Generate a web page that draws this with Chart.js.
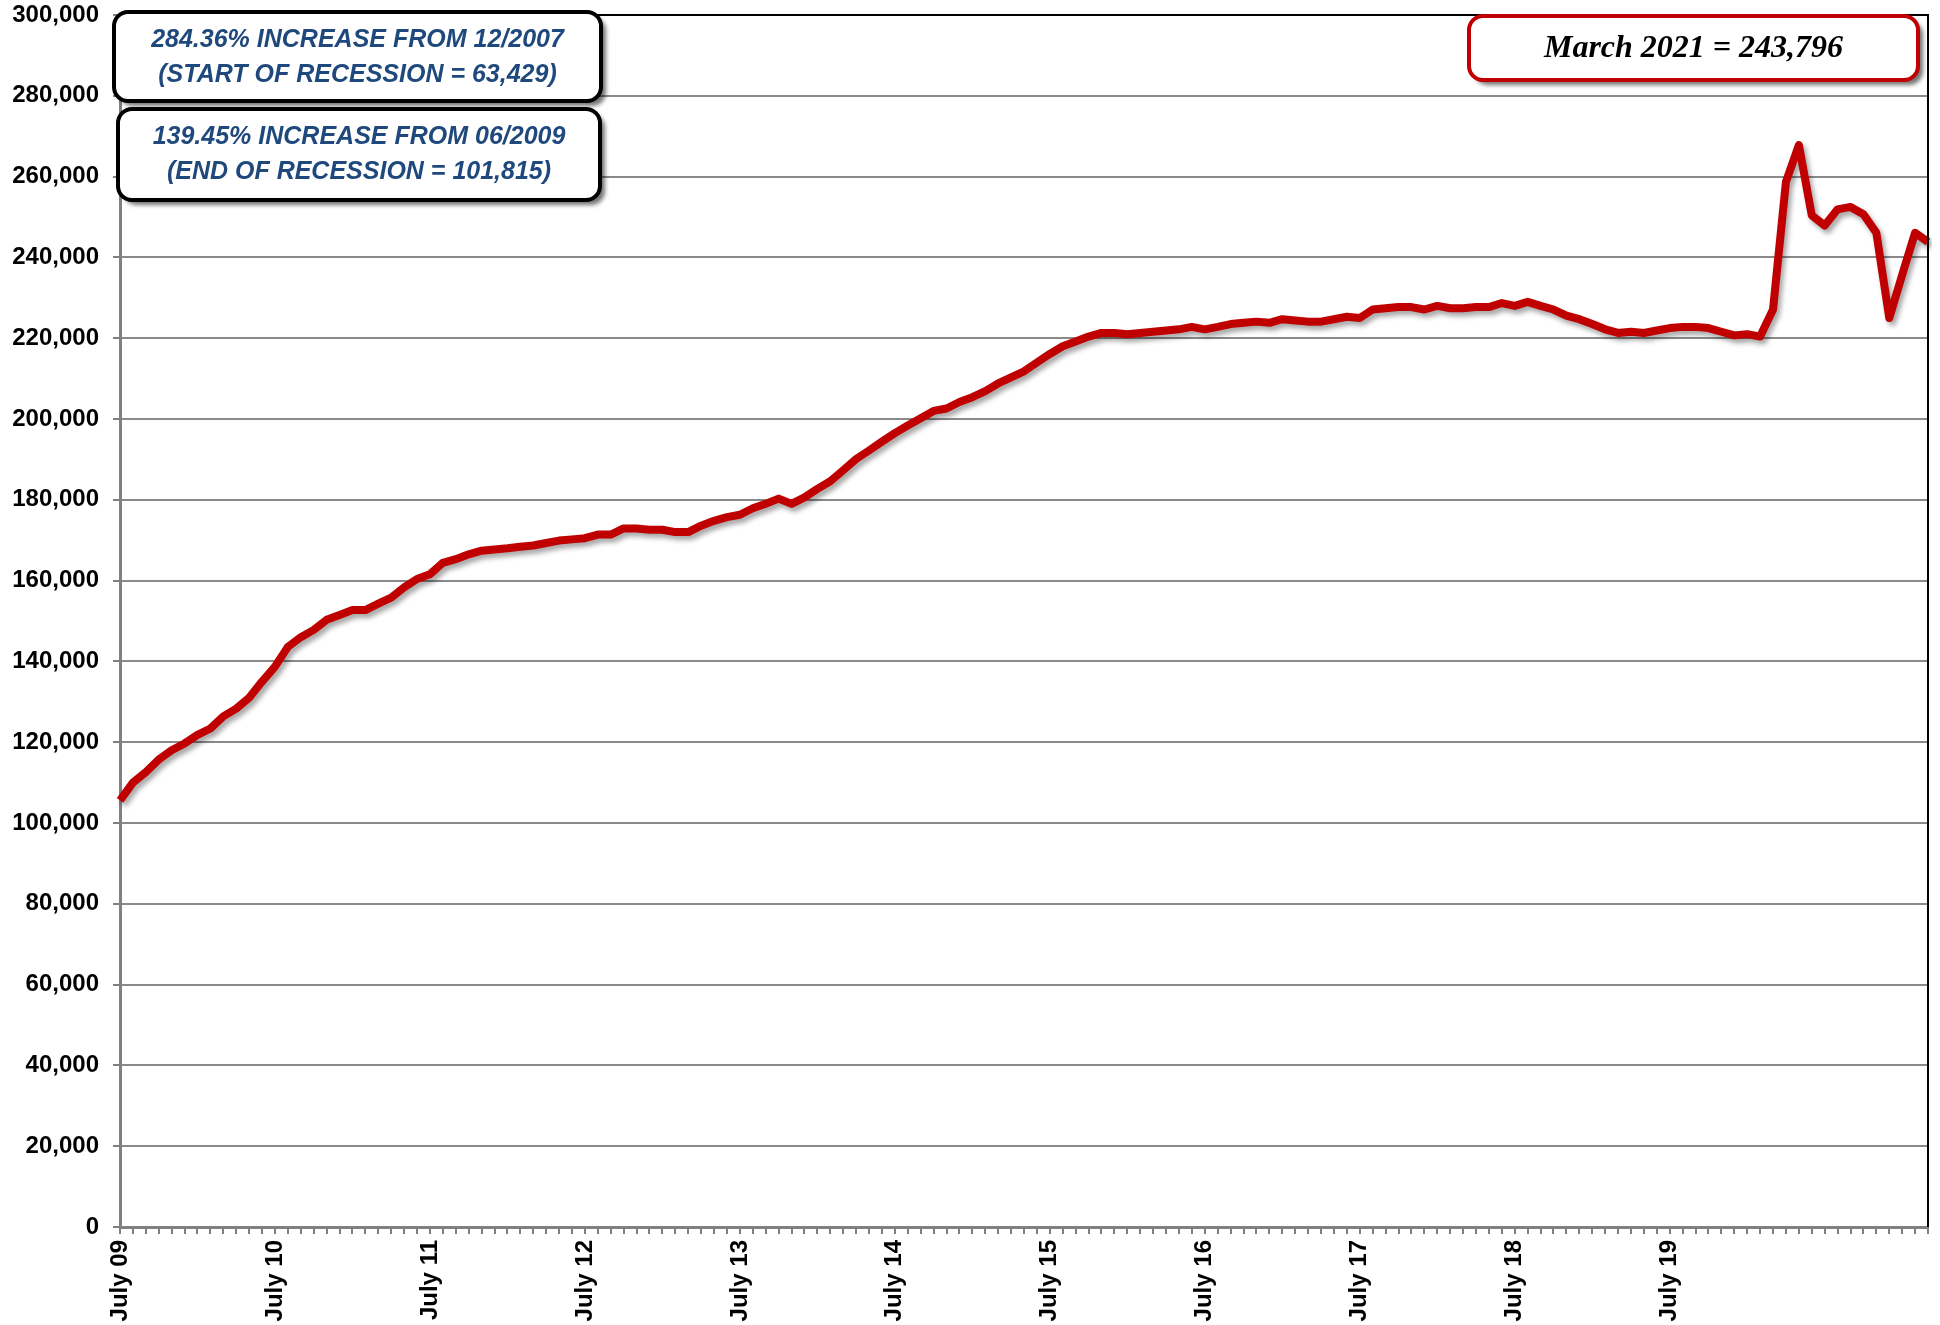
<!DOCTYPE html>
<html>
<head>
<meta charset="utf-8">
<script src="https://cdn.jsdelivr.net/npm/chart.js@4.4.1/dist/chart.umd.min.js"></script>
<style>
  body { margin: 0; background: #fff; }
  canvas { display: block; }
</style>
</head>
<body>
<canvas id="chart" width="1940" height="1325"></canvas>
<script>
// months on the x axis (July 2009 - March 2021)
const months = [
  'Jul 09','Aug 09','Sep 09','Oct 09','Nov 09','Dec 09',
  'Jan 10','Feb 10','Mar 10','Apr 10','May 10','Jun 10','Jul 10','Aug 10','Sep 10','Oct 10','Nov 10','Dec 10',
  'Jan 11','Feb 11','Mar 11','Apr 11','May 11','Jun 11','Jul 11','Aug 11','Sep 11','Oct 11','Nov 11','Dec 11',
  'Jan 12','Feb 12','Mar 12','Apr 12','May 12','Jun 12','Jul 12','Aug 12','Sep 12','Oct 12','Nov 12','Dec 12',
  'Jan 13','Feb 13','Mar 13','Apr 13','May 13','Jun 13','Jul 13','Aug 13','Sep 13','Oct 13','Nov 13','Dec 13',
  'Jan 14','Feb 14','Mar 14','Apr 14','May 14','Jun 14','Jul 14','Aug 14','Sep 14','Oct 14','Nov 14','Dec 14',
  'Jan 15','Feb 15','Mar 15','Apr 15','May 15','Jun 15','Jul 15','Aug 15','Sep 15','Oct 15','Nov 15','Dec 15',
  'Jan 16','Feb 16','Mar 16','Apr 16','May 16','Jun 16','Jul 16','Aug 16','Sep 16','Oct 16','Nov 16','Dec 16',
  'Jan 17','Feb 17','Mar 17','Apr 17','May 17','Jun 17','Jul 17','Aug 17','Sep 17','Oct 17','Nov 17','Dec 17',
  'Jan 18','Feb 18','Mar 18','Apr 18','May 18','Jun 18','Jul 18','Aug 18','Sep 18','Oct 18','Nov 18','Dec 18',
  'Jan 19','Feb 19','Mar 19','Apr 19','May 19','Jun 19','Jul 19','Aug 19','Sep 19','Oct 19','Nov 19','Dec 19',
  'Jan 20','Feb 20','Mar 20','Apr 20','May 20','Jun 20','Jul 20','Aug 20','Sep 20','Oct 20','Nov 20','Dec 20',
  'Jan 21','Feb 21','Mar 21'
];

// labels shown under the July ticks
const tickLabels = ['July 09','July 10','July 11','July 12','July 13','July 14',
                    'July 15','July 16','July 17','July 18','July 19'];

// monthly totals
const monthlyTotal = [
  105600, 110000, 112600, 115700, 118000, 119700,
  121800, 123400, 126400, 128300, 131000, 135000, 138700, 143600, 146000, 147800, 150300, 151500,
  152700, 152700, 154300, 155800, 158300, 160400, 161600, 164400, 165300, 166500, 167400, 167700,
  168000, 168400, 168700, 169300, 169900, 170200, 170500, 171400, 171400, 172900, 172900, 172600,
  172600, 172000, 172000, 173600, 174800, 175700, 176300, 177900, 179000, 180300, 179000, 180600,
  182700, 184600, 187300, 190100, 192200, 194400, 196500, 198400, 200200, 202000, 202600, 204200,
  205400, 206900, 208800, 210300, 211800, 214000, 216100, 218000, 219200, 220400, 221300, 221300,
  221000, 221300, 221600, 221900, 222200, 222800, 222200, 222800, 223500, 223800, 224100, 223800,
  224700, 224400, 224100, 224100, 224700, 225300, 225000, 227100, 227400, 227700, 227700, 227100,
  228000, 227400, 227400, 227700, 227700, 228700, 228000, 229000, 228000, 227100, 225600, 224700,
  223500, 222200, 221300, 221600, 221300, 221900, 222500, 222800, 222800, 222500, 221600, 220700,
  221000, 220400, 227100, 258700, 267800, 250400, 247900, 251900, 252500, 250700, 246100, 225000,
  235700, 246100, 243796
];

const yMin = 0;
const yMax = 300000;
const yStep = 20000;

const GRID = '#8a8a8a';
const AXIS = '#808080';
const RED = '#C00000';

// soft shadow under the series line
const lineShadow = {
  id: 'lineShadow',
  beforeDatasetsDraw(chart) {
    const c = chart.ctx;
    c.save();
    c.shadowColor = 'rgba(0,0,0,0.35)';
    c.shadowBlur = 5;
    c.shadowOffsetX = 3;
    c.shadowOffsetY = 4;
  },
  afterDatasetsDraw(chart) {
    chart.ctx.restore();
  }
};

function noteBox(c, x, y, w, h, border, lines, font, color, lineYs) {
  c.save();
  c.beginPath();
  c.roundRect(x, y, w, h, 14);
  c.shadowColor = 'rgba(0,0,0,0.55)';
  c.shadowBlur = 4;
  c.shadowOffsetX = 5;
  c.shadowOffsetY = 5;
  c.fillStyle = '#fff';
  c.fill();
  c.shadowColor = 'transparent';
  c.lineWidth = 4;
  c.strokeStyle = border;
  c.stroke();
  c.fillStyle = color;
  c.font = font;
  c.textAlign = 'center';
  c.textBaseline = 'middle';
  lines.forEach((t, i) => c.fillText(t, x + w / 2, lineYs[i]));
  c.restore();
}

// black frame on top/right and the three note boxes
const frameAndNotes = {
  id: 'frameAndNotes',
  afterDraw(chart) {
    const c = chart.ctx;
    const a = chart.chartArea;
    c.save();
    c.strokeStyle = '#000';
    c.lineWidth = 2;
    c.beginPath();
    c.moveTo(a.left, a.top);
    c.lineTo(a.right, a.top);
    c.lineTo(a.right, a.bottom);
    c.stroke();
    c.restore();

    const blueFont = 'italic bold 25px "Liberation Sans", Arial, sans-serif';
    noteBox(c, 114, 12, 487, 89, '#000',
      ['284.36% INCREASE FROM 12/2007', '(START OF RECESSION = 63,429)'],
      blueFont, '#1F497D', [40, 75]);
    noteBox(c, 118, 109, 482, 91, '#000',
      ['139.45% INCREASE FROM 06/2009', '(END OF RECESSION = 101,815)'],
      blueFont, '#1F497D', [137, 172]);
    noteBox(c, 1469, 16, 449, 64, RED,
      ['March 2021 = 243,796'],
      'italic bold 32px "Liberation Serif", "Times New Roman", serif', '#000', [49]);
  }
};

const ctx = document.getElementById('chart').getContext('2d');
new Chart(ctx, {
  type: 'line',
  data: {
    labels: months,
    datasets: [{
      data: monthlyTotal,
      borderColor: RED,
      borderWidth: 8,
      borderJoinStyle: 'round',
      pointRadius: 0,
      tension: 0,
      fill: false
    }]
  },
  options: {
    responsive: false,
    animation: false,
    devicePixelRatio: 1,
    layout: { padding: { top: 15, right: 12, left: 0, bottom: 0 } },
    plugins: {
      legend: { display: false },
      tooltip: { enabled: false }
    },
    scales: {
      x: {
        offset: false,
        grid: {
          drawOnChartArea: false,
          drawTicks: true,
          tickLength: 7,
          tickColor: AXIS,
          lineWidth: 2
        },
        border: { color: AXIS, width: 3 },
        ticks: {
          autoSkip: false,
          minRotation: 90,
          maxRotation: 90,
          padding: 6,
          color: '#000',
          font: { family: '"Liberation Sans", Arial, sans-serif', size: 24, weight: 'bold' },
          callback: function (value, index) {
            const m = months[index];
            if (m.startsWith('Jul')) {
              return tickLabels[Math.floor(index / 12)] || '';
            }
            return '';
          }
        },
        afterFit: function (scale) {
          scale.height = 98;
          scale.paddingLeft = 0;
          scale.paddingRight = 0;
        }
      },
      y: {
        min: yMin,
        max: yMax,
        grid: {
          color: GRID,
          lineWidth: 2,
          tickLength: 7,
          tickColor: AXIS
        },
        border: { color: AXIS, width: 3 },
        ticks: {
          stepSize: yStep,
          padding: 14,
          color: '#000',
          font: { family: '"Liberation Sans", Arial, sans-serif', size: 24, weight: 'bold' },
          callback: v => v.toLocaleString('en-US')
        },
        afterFit: function (scale) {
          scale.width = 120;
          scale.paddingTop = 0;
          scale.paddingBottom = 0;
        }
      }
    }
  },
  plugins: [lineShadow, frameAndNotes]
});
</script>
</body>
</html>
